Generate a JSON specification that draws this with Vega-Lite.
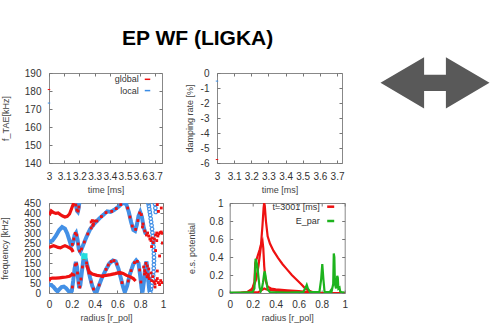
{
  "$schema": "https://vega.github.io/schema/vega-lite/v6.json",
  "padding": {"left": 0, "top": 28, "right": 0, "bottom": 0},
  "background": "white",
  "title": {"text": "EP WF (LIGKA)", "anchor": "start", "frame": "group", "dx": 73, "fontSize": 21, "font": "Liberation Sans", "fontWeight": "bold", "color": "#000000", "offset": 8},
  "bounds": "flush",
  "spacing": 130,
  "resolve": {"scale": {"color": "independent"}, "legend": {"color": "independent"}},
  "datasets": {
    "p1": [{"t": 3.0, "f": 180.8, "type": "global"}, {"t": 3.0, "f": 173.3, "type": "local"}],
    "p2": [{"t": 3.0, "v": -0.54, "type": "local"}, {"t": 3.0, "v": -5.77, "type": "global"}],
    "arrow": [{"x": 0, "y": 0}],
    "p3blue": [
      {"b": "U0", "r": 0.232, "f": 450}, {"b": "U0", "r": 0.24, "f": 428}, {"b": "U0", "r": 0.247, "f": 410}, {"b": "U0", "r": 0.253, "f": 406}, {"b": "U0", "r": 0.259, "f": 420}, {"b": "U0", "r": 0.266, "f": 450},
      {"b": "U1", "r": 0, "f": 255}, {"b": "U1", "r": 0.03, "f": 262}, {"b": "U1", "r": 0.06, "f": 285}, {"b": "U1", "r": 0.09, "f": 315}, {"b": "U1", "r": 0.115, "f": 330}, {"b": "U1", "r": 0.14, "f": 322}, {"b": "U1", "r": 0.16, "f": 298}, {"b": "U1", "r": 0.18, "f": 262}, {"b": "U1", "r": 0.195, "f": 235}, {"b": "U1", "r": 0.21, "f": 248}, {"b": "U1", "r": 0.225, "f": 290}, {"b": "U1", "r": 0.237, "f": 300}, {"b": "U1", "r": 0.25, "f": 268}, {"b": "U1", "r": 0.262, "f": 218}, {"b": "U1", "r": 0.275, "f": 205}, {"b": "U1", "r": 0.3, "f": 240}, {"b": "U1", "r": 0.33, "f": 282}, {"b": "U1", "r": 0.36, "f": 318}, {"b": "U1", "r": 0.4, "f": 348}, {"b": "U1", "r": 0.44, "f": 372}, {"b": "U1", "r": 0.48, "f": 392}, {"b": "U1", "r": 0.51, "f": 408}, {"b": "U1", "r": 0.54, "f": 405}, {"b": "U1", "r": 0.57, "f": 415}, {"b": "U1", "r": 0.61, "f": 432}, {"b": "U1", "r": 0.64, "f": 447}, {"b": "U1", "r": 0.665, "f": 450}, {"b": "U1", "r": 0.68, "f": 440}, {"b": "U1", "r": 0.7, "f": 405}, {"b": "U1", "r": 0.72, "f": 355}, {"b": "U1", "r": 0.74, "f": 315}, {"b": "U1", "r": 0.755, "f": 310}, {"b": "U1", "r": 0.77, "f": 340}, {"b": "U1", "r": 0.785, "f": 385}, {"b": "U1", "r": 0.8, "f": 405}, {"b": "U1", "r": 0.815, "f": 380}, {"b": "U1", "r": 0.83, "f": 330}, {"b": "U1", "r": 0.845, "f": 300}, {"b": "U1", "r": 0.86, "f": 295},
      {"b": "L", "r": 0, "f": 42}, {"b": "L", "r": 0.02, "f": 40}, {"b": "L", "r": 0.04, "f": 30}, {"b": "L", "r": 0.06, "f": 16}, {"b": "L", "r": 0.075, "f": 8}, {"b": "L", "r": 0.09, "f": 18}, {"b": "L", "r": 0.11, "f": 30}, {"b": "L", "r": 0.13, "f": 32}, {"b": "L", "r": 0.15, "f": 24}, {"b": "L", "r": 0.17, "f": 10}, {"b": "L", "r": 0.185, "f": 2}, {"b": "L", "r": 0.2, "f": 10}, {"b": "L", "r": 0.212, "f": 60}, {"b": "L", "r": 0.224, "f": 120}, {"b": "L", "r": 0.236, "f": 155}, {"b": "L", "r": 0.246, "f": 130}, {"b": "L", "r": 0.255, "f": 75}, {"b": "L", "r": 0.265, "f": 25}, {"b": "L", "r": 0.275, "f": 40}, {"b": "L", "r": 0.287, "f": 100}, {"b": "L", "r": 0.3, "f": 160}, {"b": "L", "r": 0.31, "f": 180}, {"b": "L", "r": 0.322, "f": 170}, {"b": "L", "r": 0.34, "f": 128}, {"b": "L", "r": 0.36, "f": 78}, {"b": "L", "r": 0.38, "f": 35}, {"b": "L", "r": 0.4, "f": 8}, {"b": "L", "r": 0.415, "f": 0}, {"b": "L", "r": 0.43, "f": 25}, {"b": "L", "r": 0.46, "f": 70}, {"b": "L", "r": 0.5, "f": 118}, {"b": "L", "r": 0.53, "f": 148}, {"b": "L", "r": 0.56, "f": 163}, {"b": "L", "r": 0.585, "f": 158}, {"b": "L", "r": 0.61, "f": 120}, {"b": "L", "r": 0.63, "f": 75}, {"b": "L", "r": 0.65, "f": 30}, {"b": "L", "r": 0.665, "f": 4}, {"b": "L", "r": 0.685, "f": 35}, {"b": "L", "r": 0.71, "f": 95}, {"b": "L", "r": 0.74, "f": 145}, {"b": "L", "r": 0.765, "f": 163}, {"b": "L", "r": 0.785, "f": 150}, {"b": "L", "r": 0.8, "f": 85}, {"b": "L", "r": 0.812, "f": 25}, {"b": "L", "r": 0.82, "f": 2}, {"b": "L", "r": 0.832, "f": 55}, {"b": "L", "r": 0.845, "f": 135}, {"b": "L", "r": 0.855, "f": 158}, {"b": "L", "r": 0.865, "f": 110}, {"b": "L", "r": 0.875, "f": 40}, {"b": "L", "r": 0.882, "f": 5}
    ],
    "p3bluepts": [
      {"r": 0.872, "f": 448}, {"r": 0.876, "f": 435}, {"r": 0.88, "f": 420}, {"r": 0.884, "f": 405}, {"r": 0.888, "f": 390}, {"r": 0.892, "f": 372}, {"r": 0.896, "f": 355}, {"r": 0.9, "f": 338}, {"r": 0.904, "f": 320}, {"r": 0.907, "f": 302}, {"r": 0.91, "f": 285}, {"r": 0.913, "f": 268}, {"r": 0.915, "f": 250}, {"r": 0.917, "f": 232}, {"r": 0.919, "f": 214}, {"r": 0.92, "f": 196}, {"r": 0.921, "f": 178}, {"r": 0.921, "f": 160}, {"r": 0.92, "f": 142}, {"r": 0.919, "f": 124}, {"r": 0.917, "f": 106}, {"r": 0.914, "f": 88}, {"r": 0.91, "f": 70}, {"r": 0.905, "f": 52}, {"r": 0.9, "f": 35}, {"r": 0.894, "f": 18}, {"r": 0.888, "f": 4},
      {"r": 0.93, "f": 445}, {"r": 0.933, "f": 425}, {"r": 0.936, "f": 405}, {"r": 0.87, "f": 80}, {"r": 0.876, "f": 60}
    ],
    "p3red": [
      {"b": "R1", "r": 0, "f": 405}, {"b": "R1", "r": 0.01, "f": 398}, {"b": "R1", "r": 0.02, "f": 410}, {"b": "R1", "r": 0.04, "f": 402}, {"b": "R1", "r": 0.06, "f": 398}, {"b": "R1", "r": 0.08, "f": 400}, {"b": "R1", "r": 0.1, "f": 392}, {"b": "R1", "r": 0.12, "f": 385}, {"b": "R1", "r": 0.14, "f": 380}, {"b": "R1", "r": 0.16, "f": 383}, {"b": "R1", "r": 0.18, "f": 395}, {"b": "R1", "r": 0.19, "f": 410}, {"b": "R1", "r": 0.2, "f": 425}, {"b": "R1", "r": 0.21, "f": 440}, {"b": "R1", "r": 0.217, "f": 450},
      {"b": "R2", "r": 0, "f": 228}, {"b": "R2", "r": 0.02, "f": 232}, {"b": "R2", "r": 0.04, "f": 236}, {"b": "R2", "r": 0.06, "f": 232}, {"b": "R2", "r": 0.08, "f": 228}, {"b": "R2", "r": 0.1, "f": 226}, {"b": "R2", "r": 0.12, "f": 232}, {"b": "R2", "r": 0.14, "f": 236}, {"b": "R2", "r": 0.16, "f": 232}, {"b": "R2", "r": 0.18, "f": 226}, {"b": "R2", "r": 0.2, "f": 218}, {"b": "R2", "r": 0.212, "f": 205},
      {"b": "R3", "r": 0, "f": 60}, {"b": "R3", "r": 0.01, "f": 72}, {"b": "R3", "r": 0.03, "f": 75}, {"b": "R3", "r": 0.06, "f": 74}, {"b": "R3", "r": 0.09, "f": 76}, {"b": "R3", "r": 0.12, "f": 78}, {"b": "R3", "r": 0.15, "f": 80}, {"b": "R3", "r": 0.18, "f": 84}, {"b": "R3", "r": 0.2, "f": 92}, {"b": "R3", "r": 0.21, "f": 100},
      {"b": "R4", "r": 0.33, "f": 140}, {"b": "R4", "r": 0.35, "f": 108}, {"b": "R4", "r": 0.38, "f": 95}, {"b": "R4", "r": 0.42, "f": 88}, {"b": "R4", "r": 0.46, "f": 85}, {"b": "R4", "r": 0.5, "f": 88}, {"b": "R4", "r": 0.54, "f": 92}, {"b": "R4", "r": 0.58, "f": 97}, {"b": "R4", "r": 0.62, "f": 103}, {"b": "R4", "r": 0.65, "f": 98}, {"b": "R4", "r": 0.68, "f": 88}, {"b": "R4", "r": 0.71, "f": 82}, {"b": "R4", "r": 0.74, "f": 72}, {"b": "R4", "r": 0.76, "f": 60}
    ],
    "p3redpts": [
      {"r": 0.235, "f": 440}, {"r": 0.245, "f": 415}, {"r": 0.255, "f": 410}, {"r": 0.262, "f": 430},
      {"r": 0.205, "f": 30}, {"r": 0.218, "f": 90}, {"r": 0.23, "f": 140}, {"r": 0.242, "f": 145}, {"r": 0.25, "f": 100}, {"r": 0.26, "f": 50}, {"r": 0.27, "f": 30}, {"r": 0.28, "f": 70}, {"r": 0.293, "f": 130}, {"r": 0.305, "f": 172}, {"r": 0.318, "f": 175}, {"r": 0.33, "f": 150}, {"r": 0.35, "f": 100}, {"r": 0.37, "f": 55}, {"r": 0.39, "f": 20}, {"r": 0.44, "f": 40}, {"r": 0.47, "f": 82}, {"r": 0.5, "f": 118}, {"r": 0.52, "f": 140}, {"r": 0.545, "f": 157}, {"r": 0.57, "f": 162}, {"r": 0.595, "f": 145}, {"r": 0.62, "f": 98}, {"r": 0.64, "f": 52}, {"r": 0.695, "f": 60}, {"r": 0.72, "f": 112}, {"r": 0.75, "f": 152}, {"r": 0.775, "f": 158}, {"r": 0.795, "f": 115}, {"r": 0.806, "f": 55}, {"r": 0.838, "f": 95}, {"r": 0.85, "f": 148}, {"r": 0.862, "f": 135}, {"r": 0.87, "f": 80},
      {"r": 0.205, "f": 243}, {"r": 0.218, "f": 270}, {"r": 0.23, "f": 298}, {"r": 0.243, "f": 290}, {"r": 0.256, "f": 245}, {"r": 0.268, "f": 210}, {"r": 0.285, "f": 220}, {"r": 0.31, "f": 255}, {"r": 0.34, "f": 295}, {"r": 0.37, "f": 325}, {"r": 0.42, "f": 360}, {"r": 0.46, "f": 382}, {"r": 0.5, "f": 402}, {"r": 0.55, "f": 408}, {"r": 0.59, "f": 422}, {"r": 0.63, "f": 442}, {"r": 0.69, "f": 425}, {"r": 0.71, "f": 380}, {"r": 0.73, "f": 335}, {"r": 0.76, "f": 318}, {"r": 0.78, "f": 362}, {"r": 0.795, "f": 400}, {"r": 0.81, "f": 392}, {"r": 0.825, "f": 345},
      {"r": 0.37, "f": 355}, {"r": 0.38, "f": 362}, {"r": 0.39, "f": 345}, {"r": 0.4, "f": 360}, {"r": 0.385, "f": 338},
      {"r": 0.82, "f": 330}, {"r": 0.84, "f": 310}, {"r": 0.855, "f": 290}, {"r": 0.865, "f": 300}, {"r": 0.875, "f": 285}, {"r": 0.885, "f": 270}, {"r": 0.895, "f": 262}, {"r": 0.905, "f": 275}, {"r": 0.915, "f": 252}, {"r": 0.925, "f": 270}, {"r": 0.935, "f": 290}, {"r": 0.945, "f": 300}, {"r": 0.955, "f": 285}, {"r": 0.965, "f": 296}, {"r": 0.975, "f": 302}, {"r": 0.985, "f": 305}, {"r": 0.995, "f": 298}, {"r": 0.95, "f": 442}, {"r": 0.985, "f": 425}, {"r": 0.96, "f": 408}, {"r": 0.935, "f": 212}, {"r": 0.97, "f": 185}, {"r": 0.995, "f": 250}, {"r": 0.9, "f": 232}, {"r": 0.945, "f": 262},
      {"r": 0.83, "f": 130}, {"r": 0.84, "f": 112}, {"r": 0.85, "f": 100}, {"r": 0.86, "f": 82}, {"r": 0.87, "f": 92}, {"r": 0.88, "f": 72}, {"r": 0.9, "f": 62}, {"r": 0.91, "f": 82}, {"r": 0.92, "f": 56}, {"r": 0.93, "f": 46}, {"r": 0.94, "f": 62}, {"r": 0.95, "f": 72}, {"r": 0.96, "f": 52}, {"r": 0.97, "f": 42}, {"r": 0.98, "f": 62}, {"r": 0.99, "f": 52}, {"r": 0.875, "f": 120}, {"r": 0.895, "f": 100}, {"r": 0.95, "f": 110}, {"r": 0.93, "f": 30}
    ],
    "p3cyan": [{"r": 0.31, "f": 183}],
    "p4": [
      {"s": "A", "k": "t=3001 [ms]", "r": 0, "v": 0}, {"s": "A", "k": "t=3001 [ms]", "r": 0.1, "v": 0.002}, {"s": "A", "k": "t=3001 [ms]", "r": 0.15, "v": 0.01}, {"s": "A", "k": "t=3001 [ms]", "r": 0.2, "v": 0.05}, {"s": "A", "k": "t=3001 [ms]", "r": 0.23, "v": 0.15}, {"s": "A", "k": "t=3001 [ms]", "r": 0.25, "v": 0.3}, {"s": "A", "k": "t=3001 [ms]", "r": 0.27, "v": 0.5}, {"s": "A", "k": "t=3001 [ms]", "r": 0.285, "v": 0.75}, {"s": "A", "k": "t=3001 [ms]", "r": 0.295, "v": 0.95}, {"s": "A", "k": "t=3001 [ms]", "r": 0.3, "v": 1.0}, {"s": "A", "k": "t=3001 [ms]", "r": 0.305, "v": 0.97}, {"s": "A", "k": "t=3001 [ms]", "r": 0.315, "v": 0.8}, {"s": "A", "k": "t=3001 [ms]", "r": 0.33, "v": 0.63}, {"s": "A", "k": "t=3001 [ms]", "r": 0.35, "v": 0.55}, {"s": "A", "k": "t=3001 [ms]", "r": 0.38, "v": 0.47}, {"s": "A", "k": "t=3001 [ms]", "r": 0.42, "v": 0.39}, {"s": "A", "k": "t=3001 [ms]", "r": 0.46, "v": 0.32}, {"s": "A", "k": "t=3001 [ms]", "r": 0.5, "v": 0.26}, {"s": "A", "k": "t=3001 [ms]", "r": 0.54, "v": 0.2}, {"s": "A", "k": "t=3001 [ms]", "r": 0.58, "v": 0.15}, {"s": "A", "k": "t=3001 [ms]", "r": 0.62, "v": 0.1}, {"s": "A", "k": "t=3001 [ms]", "r": 0.65, "v": 0.06}, {"s": "A", "k": "t=3001 [ms]", "r": 0.68, "v": 0.03}, {"s": "A", "k": "t=3001 [ms]", "r": 0.72, "v": 0.01}, {"s": "A", "k": "t=3001 [ms]", "r": 0.8, "v": 0.002}, {"s": "A", "k": "t=3001 [ms]", "r": 1, "v": 0},
      {"s": "B", "k": "t=3001 [ms]", "r": 0.19, "v": 0.02}, {"s": "B", "k": "t=3001 [ms]", "r": 0.215, "v": 0.12}, {"s": "B", "k": "t=3001 [ms]", "r": 0.222, "v": 0.33}, {"s": "B", "k": "t=3001 [ms]", "r": 0.24, "v": 0.4}, {"s": "B", "k": "t=3001 [ms]", "r": 0.26, "v": 0.48}, {"s": "B", "k": "t=3001 [ms]", "r": 0.275, "v": 0.55}, {"s": "B", "k": "t=3001 [ms]", "r": 0.285, "v": 0.58}, {"s": "B", "k": "t=3001 [ms]", "r": 0.292, "v": 0.5}, {"s": "B", "k": "t=3001 [ms]", "r": 0.3, "v": 0.3}, {"s": "B", "k": "t=3001 [ms]", "r": 0.31, "v": 0.15}, {"s": "B", "k": "t=3001 [ms]", "r": 0.33, "v": 0.07}, {"s": "B", "k": "t=3001 [ms]", "r": 0.36, "v": 0.05}, {"s": "B", "k": "t=3001 [ms]", "r": 0.4, "v": 0.04}, {"s": "B", "k": "t=3001 [ms]", "r": 0.5, "v": 0.03}, {"s": "B", "k": "t=3001 [ms]", "r": 0.6, "v": 0.02}, {"s": "B", "k": "t=3001 [ms]", "r": 0.68, "v": 0.01}, {"s": "B", "k": "t=3001 [ms]", "r": 0.75, "v": 0}, {"s": "B", "k": "t=3001 [ms]", "r": 1, "v": 0},
      {"s": "C", "k": "t=3001 [ms]", "r": 0, "v": 0}, {"s": "C", "k": "t=3001 [ms]", "r": 0.25, "v": 0.01}, {"s": "C", "k": "t=3001 [ms]", "r": 0.3, "v": 0.05}, {"s": "C", "k": "t=3001 [ms]", "r": 0.32, "v": 0.04}, {"s": "C", "k": "t=3001 [ms]", "r": 0.4, "v": 0.025}, {"s": "C", "k": "t=3001 [ms]", "r": 0.5, "v": 0.015}, {"s": "C", "k": "t=3001 [ms]", "r": 0.6, "v": 0.008}, {"s": "C", "k": "t=3001 [ms]", "r": 0.7, "v": 0.003}, {"s": "C", "k": "t=3001 [ms]", "r": 1, "v": 0},
      {"s": "G", "k": "E_par", "r": 0, "v": 0.005}, {"s": "G", "k": "E_par", "r": 0.1, "v": 0.005}, {"s": "G", "k": "E_par", "r": 0.2, "v": 0.01}, {"s": "G", "k": "E_par", "r": 0.215, "v": 0.05}, {"s": "G", "k": "E_par", "r": 0.22, "v": 0.2}, {"s": "G", "k": "E_par", "r": 0.225, "v": 0.38}, {"s": "G", "k": "E_par", "r": 0.23, "v": 0.36}, {"s": "G", "k": "E_par", "r": 0.24, "v": 0.3}, {"s": "G", "k": "E_par", "r": 0.25, "v": 0.18}, {"s": "G", "k": "E_par", "r": 0.26, "v": 0.06}, {"s": "G", "k": "E_par", "r": 0.27, "v": 0.02}, {"s": "G", "k": "E_par", "r": 0.28, "v": 0.05}, {"s": "G", "k": "E_par", "r": 0.29, "v": 0.12}, {"s": "G", "k": "E_par", "r": 0.3, "v": 0.22}, {"s": "G", "k": "E_par", "r": 0.305, "v": 0.24}, {"s": "G", "k": "E_par", "r": 0.31, "v": 0.2}, {"s": "G", "k": "E_par", "r": 0.32, "v": 0.12}, {"s": "G", "k": "E_par", "r": 0.33, "v": 0.04}, {"s": "G", "k": "E_par", "r": 0.35, "v": 0.01}, {"s": "G", "k": "E_par", "r": 0.5, "v": 0.005}, {"s": "G", "k": "E_par", "r": 0.64, "v": 0.01}, {"s": "G", "k": "E_par", "r": 0.66, "v": 0.06}, {"s": "G", "k": "E_par", "r": 0.67, "v": 0.09}, {"s": "G", "k": "E_par", "r": 0.68, "v": 0.05}, {"s": "G", "k": "E_par", "r": 0.7, "v": 0.01}, {"s": "G", "k": "E_par", "r": 0.78, "v": 0.01}, {"s": "G", "k": "E_par", "r": 0.795, "v": 0.15}, {"s": "G", "k": "E_par", "r": 0.805, "v": 0.32}, {"s": "G", "k": "E_par", "r": 0.815, "v": 0.15}, {"s": "G", "k": "E_par", "r": 0.825, "v": 0.01}, {"s": "G", "k": "E_par", "r": 0.87, "v": 0.01}, {"s": "G", "k": "E_par", "r": 0.88, "v": 0.03}, {"s": "G", "k": "E_par", "r": 0.885, "v": 0.01}, {"s": "G", "k": "E_par", "r": 0.9, "v": 0.1}, {"s": "G", "k": "E_par", "r": 0.905, "v": 0.44}, {"s": "G", "k": "E_par", "r": 0.91, "v": 0.4}, {"s": "G", "k": "E_par", "r": 0.915, "v": 0.1}, {"s": "G", "k": "E_par", "r": 0.925, "v": 0.05}, {"s": "G", "k": "E_par", "r": 0.935, "v": 0.19}, {"s": "G", "k": "E_par", "r": 0.94, "v": 0.17}, {"s": "G", "k": "E_par", "r": 0.945, "v": 0.05}, {"s": "G", "k": "E_par", "r": 0.955, "v": 0.06}, {"s": "G", "k": "E_par", "r": 0.96, "v": 0.02}, {"s": "G", "k": "E_par", "r": 0.97, "v": 0.01}, {"s": "G", "k": "E_par", "r": 1, "v": 0.005}
    ]
  },
  "vconcat": [
    {
      "bounds": "flush",
      "spacing": 55,
      "resolve": {"scale": {"color": "independent"}, "legend": {"color": "independent"}},
      "hconcat": [
        {
          "width": 113, "height": 90,
          "data": {"name": "p1"},
          "mark": {"type": "point", "shape": "stroke", "filled": false, "strokeWidth": 1, "size": 6, "opacity": 1},
          "encoding": {
            "x": {"field": "t", "type": "quantitative", "scale": {"domain": [3, 3.743], "nice": false, "zero": false},
                  "axis": {"values": [3, 3.1, 3.2, 3.3, 3.4, 3.5, 3.6, 3.7], "format": "~g", "title": "time [ms]", "labelPadding": 8, "titlePadding": 4, "gridDash": [3, 84]}},
            "y": {"field": "f", "type": "quantitative", "scale": {"domain": [140, 190], "nice": false, "zero": false},
                  "axis": {"values": [140, 150, 160, 170, 180, 190], "title": "f_TAE[kHz]", "labelPadding": 8, "titlePadding": 14, "gridDash": [3, 107]}},
            "color": {"field": "type", "type": "nominal", "scale": {"domain": ["global", "local"], "range": ["#ee1111", "#3b8de6"]},
                      "legend": {"orient": "none", "legendX": 94, "legendY": 1.8, "title": null, "symbolType": "stroke", "symbolSize": 30, "symbolStrokeWidth": 1.5, "labelAlign": "right", "labelOffset": -13.3, "labelFontSize": 9, "rowPadding": 1.3, "padding": 0}}
          }
        },
        {
          "width": 125, "height": 90,
          "data": {"name": "p2"},
          "mark": {"type": "point", "shape": "stroke", "filled": false, "strokeWidth": 1, "size": 6, "opacity": 1},
          "encoding": {
            "x": {"field": "t", "type": "quantitative", "scale": {"domain": [3, 3.729], "nice": false, "zero": false},
                  "axis": {"values": [3, 3.1, 3.2, 3.3, 3.4, 3.5, 3.6, 3.7], "format": "~g", "title": "time [ms]", "labelPadding": 8, "titlePadding": 4, "gridDash": [3, 84]}},
            "y": {"field": "v", "type": "quantitative", "scale": {"domain": [-6, 0], "nice": false, "zero": false},
                  "axis": {"values": [-6, -5, -4, -3, -2, -1, 0], "labelExpr": "datum.value < 0 ? '-' + abs(datum.value) : '0'", "title": "damping rate [%]", "labelPadding": 8, "titlePadding": 6, "gridDash": [3, 119]}},
            "color": {"field": "type", "type": "nominal", "scale": {"domain": ["global", "local"], "range": ["#ee1111", "#3b8de6"]}, "legend": null}
          }
        },
        {
          "width": 76, "height": 90,
          "view": {"stroke": null},
          "data": {"name": "arrow"},
          "mark": {"type": "point", "shape": "M -1 0 L -0.2 -0.47 L -0.2 -0.15 L 0.2 -0.15 L 0.2 -0.47 L 1 0 L 0.2 0.47 L 0.2 0.15 L -0.2 0.15 L -0.2 0.47 Z", "filled": true, "color": "#595959", "opacity": 1, "size": 11881, "strokeWidth": 0},
          "encoding": {
            "x": {"field": "x", "type": "quantitative", "scale": {"domain": [-1, 1], "nice": false}, "axis": null},
            "y": {"field": "y", "type": "quantitative", "scale": {"domain": [-80.2, 9.8], "nice": false}, "axis": null}
          }
        }
      ]
    },
    {
      "bounds": "flush",
      "spacing": 66.7,
      "resolve": {"scale": {"color": "independent"}, "legend": {"color": "independent"}},
      "hconcat": [
        {
          "width": 114, "height": 90,
          "encoding": {
            "x": {"field": "r", "type": "quantitative", "scale": {"domain": [0, 1], "nice": false},
                  "axis": {"values": [0, 0.2, 0.4, 0.6, 0.8, 1], "format": "~g", "title": "radius [r_pol]", "labelPadding": 6.5, "titlePadding": 4, "gridDash": [3, 84]}},
            "y": {"field": "f", "type": "quantitative", "scale": {"domain": [0, 450], "nice": false},
                  "axis": {"values": [0, 50, 100, 150, 200, 250, 300, 350, 400, 450], "title": "frequency [kHz]", "labelPadding": 8.5, "titlePadding": 14, "gridDash": [3, 108]}}
          },
          "layer": [
            {"data": {"name": "p3blue"}, "mark": {"type": "line", "color": "#4390e6", "strokeWidth": 4, "clip": true}, "encoding": {"detail": {"field": "b"}}},
            {"data": {"name": "p3bluepts"}, "mark": {"type": "point", "shape": "circle", "filled": false, "color": "#4390e6", "strokeWidth": 1.2, "size": 12, "opacity": 1, "clip": true}},
            {"data": {"name": "p3red"}, "mark": {"type": "line", "color": "#ee1111", "strokeWidth": 3.2, "clip": true}, "encoding": {"detail": {"field": "b"}}},
            {"data": {"name": "p3redpts"}, "mark": {"type": "point", "shape": "square", "filled": true, "color": "#ee1111", "size": 8, "opacity": 1, "clip": true}},
            {"data": {"name": "p3cyan"}, "mark": {"type": "point", "shape": "square", "filled": true, "color": "#22dede", "size": 40, "opacity": 1}}
          ]
        },
        {
          "width": 115, "height": 90,
          "data": {"name": "p4"},
          "mark": {"type": "line", "strokeWidth": 2.2, "clip": true},
          "encoding": {
            "x": {"field": "r", "type": "quantitative", "scale": {"domain": [0, 1], "nice": false},
                  "axis": {"values": [0, 0.2, 0.4, 0.6, 0.8, 1], "format": "~g", "title": "radius [r_pol]", "labelPadding": 6.5, "titlePadding": 4, "gridDash": [3, 84]}},
            "y": {"field": "v", "type": "quantitative", "scale": {"domain": [0, 1], "nice": false},
                  "axis": {"values": [0, 0.2, 0.4, 0.6, 0.8, 1], "format": "~g", "title": "e.s. potential", "labelPadding": 6.7, "titlePadding": 13, "gridDash": [3, 109]}},
            "color": {"field": "k", "type": "nominal", "scale": {"domain": ["t=3001 [ms]", "E_par"], "range": ["#ee1111", "#1db31d"]},
                      "legend": {"orient": "none", "legendX": 96, "legendY": -1.3, "title": null, "symbolType": "stroke", "symbolSize": 49, "symbolStrokeWidth": 2.5, "labelAlign": "right", "labelOffset": -16, "labelFontSize": 9, "rowPadding": 4.3, "padding": 0}},
            "detail": {"field": "s"}
          }
        }
      ]
    }
  ],
  "config": {
    "font": "Liberation Sans",
    "view": {"stroke": "#888888", "strokeWidth": 1},
    "axis": {"domain": false, "ticks": false, "grid": true, "gridColor": "#777777", "gridWidth": 1, "gridOpacity": 1,
             "labelFont": "Liberation Sans", "labelFontSize": 10, "labelColor": "#333333",
             "titleFont": "Liberation Sans", "titleFontSize": 9, "titleFontWeight": "normal", "titleColor": "#444444",
             "labelOverlap": false, "labelFlush": false, "labelBound": false},
    "legend": {"labelFont": "Liberation Sans", "labelColor": "#333333"}
  }
}
